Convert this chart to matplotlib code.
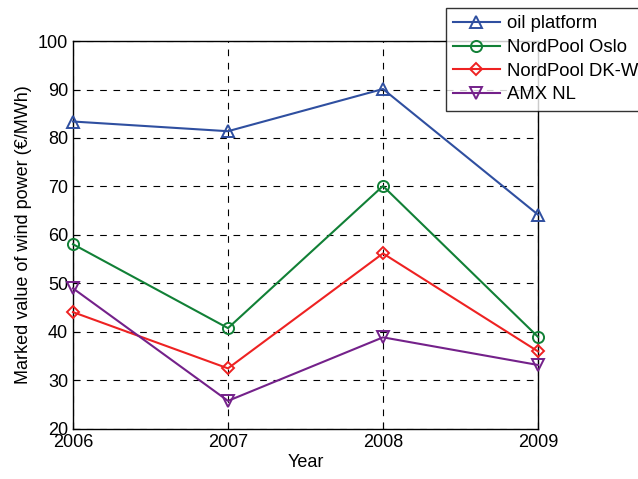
import matplotlib
matplotlib.use('Agg')
import matplotlib.pyplot as plt

years = [2006, 2007, 2008, 2009]
oilPlatform = [83.4, 81.4, 90.1, 64.2]
nordPoolOslo = [58.1, 40.8, 70.1, 39.0]
nordPoolDKW = [44.1, 32.5, 56.2, 36.0]
amxNL = [49.0, 25.8, 38.9, 33.2]

plt.rcParams['font.family'] = ['Liberation Sans', 'DejaVu Sans']

fig = plt.figure(figsize=(6.38, 4.79), dpi=100)
ax = fig.add_axes([0.1144, 0.1044, 0.7288, 0.8100])

series = [
    (oilPlatform, 'oil platform', '#2f4fa0', '^'),
    (nordPoolOslo, 'NordPool Oslo', '#118036', 'o'),
    (nordPoolDKW, 'NordPool DK-W', '#ee2222', 'D'),
    (amxNL, 'AMX NL', '#74218a', 'v'),
]
for values, label, color, marker in series:
    ms = 6 if marker == 'D' else 8
    ax.plot(years, values, color=color, marker=marker, markersize=ms,
            markerfacecolor='none', markeredgewidth=1.4, linewidth=1.5,
            label=label, clip_on=False, zorder=3)

ax.set_xlim(2006, 2009)
ax.set_ylim(20, 100)
ax.set_xticks(years)
ax.set_yticks(range(20, 101, 10))
ax.grid(True, linestyle=(0, (6, 6)), color='black', linewidth=0.8)
ax.tick_params(direction='in', labelsize=13, length=5, color='black')
for s in ax.spines.values():
    s.set_linewidth(1.0)
ax.set_xlabel('Year', fontsize=13, labelpad=2)
ax.set_ylabel('Marked value of wind power (€/MWh)', fontsize=13)

leg = fig.legend(loc='upper left', bbox_to_anchor=(446 / 638, 1 - 8 / 479),
                 fontsize=13.3, frameon=True, fancybox=False, edgecolor='black',
                 borderaxespad=0, handlelength=2.5, labelspacing=0.36,
                 borderpad=0.4, handletextpad=0.4)
leg.get_frame().set_linewidth(1.0)

fig.savefig('out.png', dpi=100)
